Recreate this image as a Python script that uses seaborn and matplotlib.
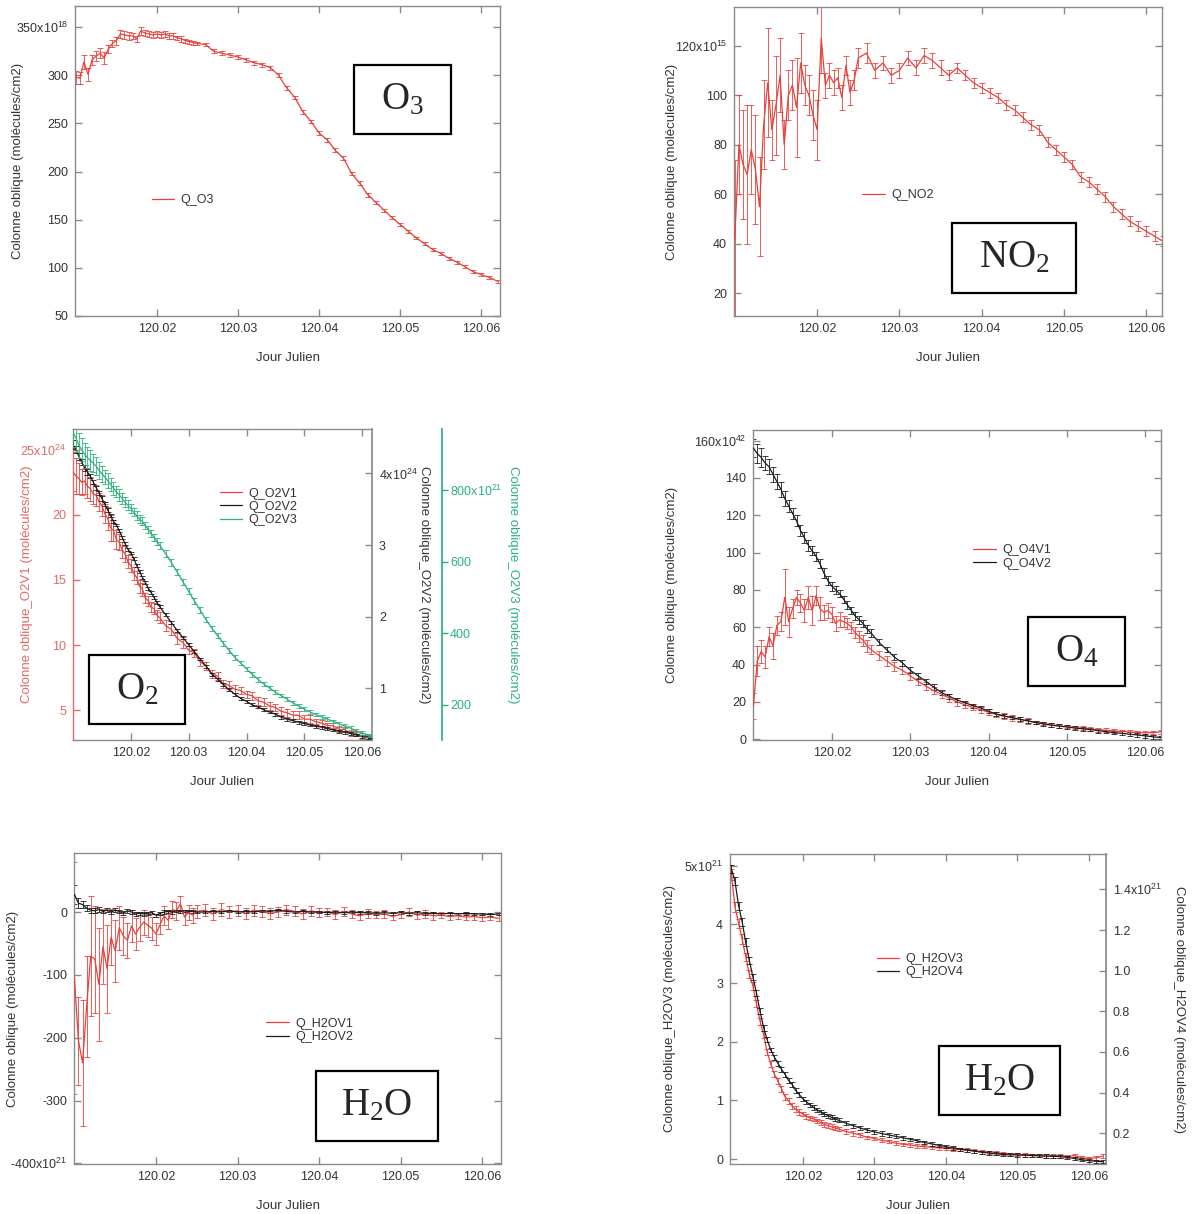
import matplotlib
matplotlib.use("Agg")
import matplotlib.pyplot as plt
import pandas as pd
import seaborn as sns
from matplotlib.patches import Rectangle

# temps (jour julien) commun a toutes les series
jour = [120.0100, 120.0105, 120.0110, 120.0115, 120.0120, 120.0125, 120.0130, 120.0135, 120.0140, 120.0145,
        120.0150, 120.0155, 120.0160, 120.0165, 120.0170, 120.0175, 120.0180, 120.0185, 120.0190, 120.0195,
        120.0200, 120.0205, 120.0210, 120.0215, 120.0220, 120.0225, 120.0230, 120.0235, 120.0240, 120.0245,
        120.0250, 120.026, 120.027, 120.028, 120.029, 120.030, 120.031, 120.032, 120.033, 120.034,
        120.035, 120.036, 120.037, 120.038, 120.039, 120.040, 120.041, 120.042, 120.043, 120.044,
        120.045, 120.046, 120.047, 120.048, 120.049, 120.050, 120.051, 120.052, 120.053, 120.054,
        120.055, 120.056, 120.057, 120.058, 120.059, 120.060, 120.061, 120.062]

# O3 (x1e18)
q_o3 = [298, 297, 314, 301, 316, 320, 323, 318, 327, 333,
        336, 343, 342, 341, 341, 338, 346, 344, 343, 342,
        343, 342, 343, 341, 341, 339, 338, 336, 335, 334,
        333, 332, 325, 323, 321, 319, 316, 313, 311, 308,
        300, 287, 277, 262, 252, 240, 233, 222, 214, 198,
        188, 176, 168, 160, 152, 145, 138, 131, 125, 119,
        115, 110, 106, 101, 96, 93, 90, 86]
q_o3_err = [7, 6, 7, 7, 5, 5, 5, 6, 4, 4,
            4, 4, 4, 4, 3, 3, 4, 3, 3, 3,
            3, 3, 3, 3, 3, 2, 3, 2, 2, 2,
            2, 2, 2, 2, 2, 2, 2, 2, 2, 2,
            2, 2, 2, 2, 2, 2, 2, 2, 2, 2,
            2, 2, 1.5, 1.5, 1.5, 1.5, 1.5, 1.5, 1.5, 1.5,
            1.5, 1.5, 1.5, 1.5, 1.5, 1.5, 1.5, 1.5]

# NO2 (x1e15)
q_no2 = [42, 80, 72, 68, 78, 70, 55, 88, 105, 86,
         96, 108, 80, 100, 104, 95, 113, 104, 100, 92,
         86, 123, 104, 108, 105, 107, 99, 112, 101, 106,
         115, 117, 110, 113, 108, 110, 115, 111, 116, 114,
         111, 108, 111, 108, 105, 103, 101, 99, 96, 94,
         91, 88, 86, 81, 78, 75, 72, 67, 65, 62,
         59, 55, 52, 49, 47, 45, 43, 41]
q_no2_err = [32, 20, 22, 28, 18, 22, 20, 18, 22, 12,
             20, 15, 10, 10, 10, 20, 12, 8, 8, 10,
             12, 14, 5, 5, 5, 4, 5, 4, 5, 4,
             4, 4, 3, 3, 3, 3, 3, 3, 3, 3,
             3, 2, 2, 2, 2, 2, 2, 2, 2, 2,
             2, 2, 2, 2, 2, 2, 2, 2, 2, 2,
             2, 2, 2, 2, 2, 2, 2, 2]

# O2 : V1 (x1e24, axe gauche), V2 (x1e24, axe droit), V3 (x1e21, troisieme axe)
q_o2v1 = [23.3, 23.0, 22.8, 22.5, 22.6, 22.2, 22.0, 21.6, 21.5, 21.0,
          20.7, 20.1, 19.7, 19.0, 18.8, 18.1, 17.9, 17.3, 17.0, 16.4,
          16.1, 15.5, 15.2, 14.5, 14.3, 13.6, 13.4, 12.9, 12.8, 12.3,
          12.1, 11.5, 11.2, 10.5, 10.2, 9.6, 9.4, 8.7, 8.4, 7.8,
          7.6, 7.0, 6.9, 6.6, 6.5, 6.2, 6.1, 5.7, 5.6, 5.3,
          5.2, 4.9, 4.8, 4.6, 4.6, 4.3, 4.3, 4.1, 4.0, 3.8,
          3.8, 3.5, 3.5, 3.2, 3.2, 3.0, 2.9, 2.8]
q_o2v1_err = [1.5, 1.4, 1.2, 1.0, 1.0, 0.9, 0.9, 0.8, 0.8, 0.7,
              0.8, 0.7, 0.9, 1.0, 0.8, 0.7, 0.6, 0.6, 0.6, 0.5,
              0.5, 0.5, 0.5, 0.5, 0.5, 0.4, 0.4, 0.4, 0.4, 0.4,
              0.4, 0.4, 0.4, 0.4, 0.4, 0.3, 0.3, 0.3, 0.3, 0.3,
              0.3, 0.3, 0.3, 0.3, 0.3, 0.3, 0.3, 0.3, 0.3, 0.3,
              0.3, 0.3, 0.3, 0.3, 0.3, 0.3, 0.3, 0.2, 0.2, 0.2,
              0.2, 0.2, 0.2, 0.2, 0.2, 0.2, 0.2, 0.2]
q_o2v2 = [4.40, 4.33, 4.24, 4.16, 4.08, 4.02, 3.96, 3.88, 3.80, 3.73,
          3.65, 3.57, 3.49, 3.41, 3.33, 3.28, 3.20, 3.11, 3.02, 2.94,
          2.89, 2.81, 2.72, 2.63, 2.55, 2.48, 2.40, 2.34, 2.27, 2.20,
          2.14, 2.03, 1.92, 1.81, 1.71, 1.61, 1.51, 1.41, 1.31, 1.20,
          1.13, 1.05, 0.98, 0.92, 0.86, 0.82, 0.77, 0.74, 0.70, 0.67,
          0.64, 0.60, 0.57, 0.55, 0.53, 0.51, 0.49, 0.47, 0.46, 0.44,
          0.42, 0.40, 0.39, 0.37, 0.35, 0.33, 0.31, 0.29]
q_o2v2_err = [0.06, 0.05, 0.05, 0.04, 0.04, 0.04, 0.03, 0.03, 0.03, 0.03,
              0.03, 0.03, 0.03, 0.02, 0.02, 0.02, 0.02, 0.02, 0.02, 0.02,
              0.02, 0.02, 0.02, 0.02, 0.02, 0.02, 0.02, 0.02, 0.02, 0.02,
              0.02, 0.02, 0.02, 0.02, 0.02, 0.02, 0.02, 0.02, 0.02, 0.02,
              0.02, 0.02, 0.02, 0.02, 0.02, 0.02, 0.02, 0.02, 0.02, 0.02,
              0.02, 0.02, 0.02, 0.02, 0.02, 0.02, 0.02, 0.02, 0.02, 0.02,
              0.02, 0.02, 0.02, 0.02, 0.02, 0.02, 0.02, 0.02]
q_o2v3 = [960, 945, 925, 912, 900, 890, 882, 875, 866, 855,
          845, 836, 826, 815, 805, 795, 786, 776, 766, 757,
          748, 738, 728, 718, 712, 700, 690, 679, 667, 656,
          645, 622, 598, 571, 544, 517, 490, 464, 438, 414,
          393, 372, 352, 332, 317, 300, 285, 271, 258, 247,
          236, 226, 216, 206, 197, 188, 180, 173, 166, 160,
          154, 147, 141, 135, 128, 122, 115, 110]
q_o2v3_err = [40, 38, 35, 32, 30, 30, 28, 26, 25, 24,
              22, 20, 20, 18, 18, 16, 16, 15, 14, 14,
              13, 12, 12, 11, 11, 10, 10, 10, 10, 9,
              9, 9, 9, 8, 8, 8, 8, 8, 8, 7,
              7, 7, 7, 7, 6, 6, 6, 6, 6, 6,
              6, 5, 5, 5, 5, 5, 5, 5, 5, 5,
              5, 5, 5, 5, 5, 5, 5, 5]

# O4 (x1e42)
q_o4v1 = [18, 42, 47, 44, 55, 50, 61, 63, 76, 63,
          70, 76, 73, 69, 76, 69, 77, 70, 68, 69,
          67, 62, 64, 63, 62, 60, 57, 55, 53, 50,
          48, 45, 42, 39, 37, 34, 31, 28.5, 26, 24,
          22, 20, 18.5, 17, 15.8, 14.5, 13.3, 12.3, 11.5, 10.6,
          9.8, 9.0, 8.4, 7.8, 7.2, 6.8, 6.3, 5.9, 5.5, 5.1,
          4.8, 4.5, 4.2, 3.9, 3.6, 3.4, 3.6, 4.0]
q_o4v1_err = [7, 8, 6, 6, 5, 7, 5, 5, 15, 8,
              5, 4, 5, 6, 6, 8, 5, 6, 4, 4,
              4, 4, 4, 3, 3, 3, 3, 3, 3, 3,
              2.5, 2.5, 2.5, 2.5, 2, 2, 2, 2, 2, 2,
              2, 2, 1.5, 1.5, 1.5, 1.5, 1.5, 1.5, 1.5, 1.5,
              1.5, 1, 1, 1, 1, 1, 1, 1, 1, 1,
              1, 1, 1, 1, 1, 1, 1, 1]
q_o4v2 = [156, 153, 151, 148, 146, 142, 138, 134, 129, 125,
          121, 117, 112, 108, 104, 101, 98, 94, 89, 85,
          82, 80, 78, 75, 72, 69, 66, 64, 62, 59,
          57, 52, 48, 44, 41, 37, 34, 31, 28, 25,
          23, 21, 19.6, 18, 16.8, 15, 13.5, 12.5, 11.6, 10.7,
          9.9, 9.0, 8.2, 7.6, 7.0, 6.6, 6.0, 5.6, 5.2, 4.6,
          4.1, 3.6, 3.2, 2.7, 2.3, 1.8, 1.3, 0.9]
q_o4v2_err = [5, 5, 5, 4, 4, 4, 4, 4, 4, 3,
              3, 3, 3, 3, 3, 2.5, 2.5, 2.5, 2.5, 2.5,
              2.5, 2, 2, 2, 2, 2, 2, 2, 2, 2,
              2, 1.5, 1.5, 1.5, 1.5, 1.5, 1.5, 1.5, 1.5, 1.5,
              1.5, 1, 1, 1, 1, 1, 1, 1, 1, 1,
              1, 1, 1, 1, 1, 1, 1, 1, 1, 1,
              1, 1, 1, 1, 1, 1, 1, 1]

# H2O V1 / V2 (x1e21)
q_h2ov1 = [-105, -205, -240, -150, -70, -75, -115, -55, -90, -40,
           -62, -25, -38, -45, -22, -35, -24, -16, -21, -26,
           -35, -20, -6, -13, 4, 2, 13, -8, 0, -5,
           1, 3, -3, 4, 0, 2, -2, 3, 1, -2,
           0, 4, 1, -3, 2, -1, 0, -4, 1, -3,
           -6, -2, -4, -3, -7, -4, 0, -5, -3, -6,
           -5, -7, -6, -8, -7, -9, -8, -10]
q_h2ov1_err = [185, 70, 100, 80, 95, 85, 90, 60, 70, 45,
               50, 35, 30, 28, 25, 25, 22, 20, 18, 18,
               18, 15, 15, 14, 14, 14, 12, 12, 12, 12,
               10, 10, 10, 10, 10, 9, 9, 9, 9, 9,
               8, 8, 8, 8, 8, 7, 7, 7, 7, 7,
               7, 7, 6, 6, 6, 6, 6, 6, 6, 6,
               5, 5, 5, 5, 5, 5, 5, 5]
q_h2ov2 = [28, 14, 12, 6, 3, 2, 4, 1, 3, 0,
           3, 1, -2, 2, 0, -3, -2, -3, -2, -1,
           -5, -2, 0, 1, 0, 2, 1, 2, 1, 1,
           0, 0, 1, 0, 2, 0, 1, 0, 2, 1,
           3, 1, 0, 1, 0, 0, -1, 0, -1, 0,
           -1, -1, -2, -1, -2, -1, -2, -1, -2, -2,
           -3, -2, -3, -2, -3, -3, -4, -3]
q_h2ov2_err = [15, 8, 6, 5, 4, 4, 4, 3, 3, 3,
               3, 3, 3, 3, 3, 2.5, 2.5, 2.5, 2.5, 2.5,
               2.5, 2.5, 2.5, 2.5, 2.5, 2, 2, 2, 2, 2,
               2, 2, 2, 2, 2, 2, 2, 2, 2, 2,
               2, 2, 2, 2, 2, 2, 2, 2, 2, 2,
               2, 2, 2, 2, 2, 2, 2, 2, 2, 2,
               2, 2, 2, 2, 2, 2, 2, 2]

# H2O V3 (x1e21, axe gauche) / V4 (x1e21, axe droit)
q_h2ov3 = [4.85, 4.30, 4.02, 3.75, 3.45, 3.15, 2.95, 2.65, 2.35, 2.12,
           1.82, 1.62, 1.45, 1.33, 1.20, 1.06, 0.99, 0.90, 0.85, 0.80,
           0.77, 0.73, 0.70, 0.68, 0.65, 0.62, 0.59, 0.57, 0.55, 0.53,
           0.51, 0.47, 0.44, 0.41, 0.37, 0.35, 0.32, 0.30, 0.27, 0.25,
           0.24, 0.22, 0.21, 0.20, 0.19, 0.18, 0.17, 0.16, 0.15, 0.14,
           0.12, 0.11, 0.10, 0.09, 0.08, 0.08, 0.07, 0.06, 0.06, 0.05,
           0.05, 0.05, 0.04, 0.06, 0.02, 0.01, 0.02, 0.05]
q_h2ov3_err = [0.10, 0.09, 0.08, 0.08, 0.07, 0.07, 0.07, 0.06, 0.06, 0.06,
               0.05, 0.05, 0.05, 0.05, 0.05, 0.05, 0.05, 0.05, 0.05, 0.05,
               0.04, 0.04, 0.04, 0.04, 0.04, 0.04, 0.04, 0.04, 0.04, 0.04,
               0.04, 0.04, 0.04, 0.04, 0.03, 0.03, 0.03, 0.03, 0.03, 0.03,
               0.03, 0.03, 0.03, 0.03, 0.03, 0.03, 0.03, 0.03, 0.03, 0.03,
               0.03, 0.03, 0.03, 0.03, 0.03, 0.03, 0.03, 0.03, 0.03, 0.03,
               0.03, 0.03, 0.03, 0.03, 0.03, 0.03, 0.03, 0.03]
q_h2ov4 = [1.50, 1.44, 1.32, 1.24, 1.14, 1.05, 0.97, 0.89, 0.80, 0.72,
           0.66, 0.61, 0.575, 0.545, 0.515, 0.49, 0.46, 0.44, 0.41, 0.39,
           0.37, 0.355, 0.34, 0.327, 0.315, 0.305, 0.295, 0.287, 0.279, 0.271,
           0.264, 0.250, 0.238, 0.226, 0.216, 0.207, 0.199, 0.192, 0.185, 0.178,
           0.171, 0.163, 0.155, 0.148, 0.141, 0.134, 0.128, 0.122, 0.117, 0.112,
           0.107, 0.103, 0.099, 0.096, 0.094, 0.093, 0.092, 0.091, 0.089, 0.088,
           0.087, 0.085, 0.082, 0.076, 0.070, 0.066, 0.062, 0.060]
q_h2ov4_err = [0.02, 0.02, 0.02, 0.02, 0.02, 0.015, 0.015, 0.015, 0.015, 0.015,
               0.012, 0.012, 0.012, 0.012, 0.012, 0.012, 0.012, 0.012, 0.012, 0.012,
               0.01, 0.01, 0.01, 0.01, 0.01, 0.01, 0.01, 0.01, 0.01, 0.01,
               0.01, 0.01, 0.01, 0.01, 0.01, 0.01, 0.01, 0.01, 0.01, 0.01,
               0.008, 0.008, 0.008, 0.008, 0.008, 0.008, 0.008, 0.008, 0.008, 0.008,
               0.008, 0.008, 0.008, 0.008, 0.008, 0.008, 0.008, 0.008, 0.008, 0.008,
               0.008, 0.008, 0.008, 0.008, 0.008, 0.008, 0.008, 0.008]

x_ticks = [120.02, 120.03, 120.04, 120.05, 120.06]
x_labels = ["120.02", "120.03", "120.04", "120.05", "120.06"]

sns.set_theme(style="white")
plt.rcParams["font.family"] = ["Liberation Sans", "DejaVu Sans"]
plt.rcParams["mathtext.default"] = "regular"

RED = "#e8403a"
RED_AX = "#e06a66"
BLACK = "#1c1c1c"
GREEN = "#2bb27b"
GREY = "#8a8a8a"
TXT = "#333333"

W, H = 1196, 1214
fig = plt.figure(figsize=(W / 100, H / 100), dpi=100)


def place(l, t, r, b):
    return [l / W, 1 - b / H, (r - l) / W, (b - t) / H]


def trace(ax, y, err, color):
    frame = pd.DataFrame({"jour": jour, "val": y})
    ax.errorbar(jour, y, yerr=err, fmt="none", ecolor=color, elinewidth=0.7,
                capsize=2, capthick=0.7, alpha=0.85, zorder=2)
    sns.lineplot(data=frame, x="jour", y="val", ax=ax, color=color, linewidth=0.9,
                 errorbar=None, legend=False, zorder=3)
    return ax.lines[-1]


def frame_axes(ax, xlim, ylim, yticks, ylabels, ylabel, lab_x, right=True):
    ax.set_xlim(*xlim)
    ax.set_ylim(*ylim)
    ax.set_xticks(x_ticks)
    ax.set_xticklabels(x_labels)
    ax.set_yticks(yticks)
    ax.set_yticklabels(ylabels)
    for s in ax.spines.values():
        s.set_color(GREY)
        s.set_linewidth(1)
    ax.tick_params(direction="in", length=5, width=1, color=GREY, labelsize=9,
                   labelcolor=TXT, pad=5, bottom=True, top=True, left=True, right=right)
    ax.set_xlabel("Jour Julien", fontsize=9.5, color=TXT)
    ax.xaxis.set_label_coords(0.5, -0.115)
    ax.set_ylabel(ylabel, fontsize=9.5, color=TXT)
    ax.yaxis.label.set_va("center")
    ax.yaxis.set_label_coords(lab_x, 0.5)


def legend(ax, handles, labels, x, y):
    ax.legend(handles, labels, loc="center left", bbox_to_anchor=(x, y), frameon=False,
              fontsize=9, handlelength=1.8, handletextpad=0.5, borderpad=0,
              borderaxespad=0, labelspacing=0.1, labelcolor=TXT)


def right_twin(ax, ylim, yticks, ylabels, color=GREY, txt=TXT):
    tw = ax.twinx()
    tw.set_ylim(*ylim)
    for name, s in tw.spines.items():
        s.set_visible(name == "right")
    tw.spines["right"].set_color(color)
    tw.set_yticks(yticks)
    tw.set_yticklabels(ylabels)
    tw.tick_params(axis="y", direction="in", length=5, width=1, color=color,
                   labelsize=9, labelcolor=txt, pad=5, right=True, left=False)
    return tw


def right_label(tw, ylabel, lab_x, color=TXT):
    tw.set_ylabel(ylabel, fontsize=9.5, color=color, rotation=270)
    tw.yaxis.label.set_va("center")
    tw.yaxis.set_label_coords(lab_x, 0.5)


def tag(l, t, r, b, text):
    fig.add_artist(Rectangle((l / W, 1 - b / H), (r - l) / W, (b - t) / H,
                             transform=fig.transFigure, fill=False, lw=1.6, ec="black"))
    fig.text((l + r) / 2 / W, 1 - (t + b) / 2 / H, text, fontsize=28,
             fontfamily="Liberation Serif", ha="center", va="center")


label_q = "Colonne oblique (molécules/cm2)"

# O3
ax = fig.add_axes(place(75, 6, 500, 316))
h = trace(ax, q_o3, q_o3_err, RED)
frame_axes(ax, (120.0099, 120.0623), (50, 372), [50, 100, 150, 200, 250, 300, 350],
           ["50", "100", "150", "200", "250", "300", "350x10$^{18}$"], label_q, -0.134)
legend(ax, [h], ["Q_O3"], 0.18, 0.374)
tag(354, 65, 451, 134, r"O$_{3}$")

# NO2
ax = fig.add_axes(place(734, 7, 1162, 316))
h = trace(ax, q_no2, q_no2_err, RED)
frame_axes(ax, (120.0099, 120.0619), (10.8, 135.6), [20, 40, 60, 80, 100, 120],
           ["20", "40", "60", "80", "100", "120x10$^{15}$"], label_q, -0.145)
legend(ax, [h], ["Q_NO2"], 0.30, 0.39)
tag(952, 223, 1076, 293, r"NO$_{2}$")

# O2 (trois axes)
ax = fig.add_axes(place(73, 429, 372, 740))
h1 = trace(ax, q_o2v1, q_o2v1_err, RED)
frame_axes(ax, (120.0100, 120.0617), (2.7, 26.6), [5, 10, 15, 20, 25],
           ["5", "10", "15", "20", "25x10$^{24}$"],
           "Colonne oblique_O2V1 (molécules/cm2)", -0.154, right=False)
ax.spines["left"].set_color(RED_AX)
ax.tick_params(axis="y", color=RED_AX, labelcolor=RED_AX)
ax.yaxis.label.set_color(RED_AX)
ax.spines["right"].set_visible(False)

ax2 = right_twin(ax, (0.28, 4.62), [1, 2, 3, 4], ["1", "2", "3", "4x10$^{24}$"])
h2 = trace(ax2, q_o2v2, q_o2v2_err, BLACK)
ax2.set_ylim(0.28, 4.62)
right_label(ax2, "Colonne oblique_O2V2 (molécules/cm2)", 1.174)

ax3 = right_twin(ax, (102, 970), [200, 400, 600, 800], ["200", "400", "600", "800x10$^{21}$"],
                 color=GREEN, txt=GREEN)
h3 = trace(ax3, q_o2v3, q_o2v3_err, GREEN)
ax3.set_ylim(102, 970)
ax3.spines["right"].set_position(("axes", 1.233))
ax3.tick_params(axis="y", direction="out", length=4, pad=2)
right_label(ax3, "Colonne oblique_O2V3 (molécules/cm2)", 1.472, color=GREEN)
ax.set_xlim(120.0100, 120.0617)
legend(ax3, [h1, h2, h3], ["Q_O2V1", "Q_O2V2", "Q_O2V3"], 0.49, 0.75)
tag(89, 655, 185, 724, r"O$_{2}$")

# O4
ax = fig.add_axes(place(753, 430, 1161, 740))
h1 = trace(ax, q_o4v1, q_o4v1_err, RED)
h2 = trace(ax, q_o4v2, q_o4v2_err, BLACK)
frame_axes(ax, (120.00995, 120.062), (-0.4, 165.7), [0, 20, 40, 60, 80, 100, 120, 140, 160],
           ["0", "20", "40", "60", "80", "100", "120", "140", "160x10$^{42}$"], label_q, -0.199)
legend(ax, [h1, h2], ["Q_O4V1", "Q_O4V2"], 0.54, 0.59)
tag(1028, 617, 1125, 686, r"O$_{4}$")

# H2O V1 / V2
ax = fig.add_axes(place(74, 853, 501, 1164))
h1 = trace(ax, q_h2ov1, q_h2ov1_err, RED)
h2 = trace(ax, q_h2ov2, q_h2ov2_err, BLACK)
frame_axes(ax, (120.00995, 120.0623), (-401, 94), [-400, -300, -200, -100, 0],
           ["-400x10$^{21}$", "-300", "-200", "-100", "0"], label_q, -0.143)
legend(ax, [h1, h2], ["Q_H2OV1", "Q_H2OV2"], 0.45, 0.43)
tag(316, 1071, 438, 1141, r"H$_{2}$O")

# H2O V3 / V4
ax = fig.add_axes(place(730, 854, 1106, 1164))
h1 = trace(ax, q_h2ov3, q_h2ov3_err, RED)
frame_axes(ax, (120.0098, 120.0624), (-0.085, 5.2), [0, 1, 2, 3, 4, 5],
           ["0", "1", "2", "3", "4", "5x10$^{21}$"],
           "Colonne oblique_H2OV3 (molécules/cm2)", -0.16, right=False)
ax.spines["right"].set_visible(False)
ax2 = right_twin(ax, (0.049, 1.574), [0.2, 0.4, 0.6, 0.8, 1.0, 1.2, 1.4],
                 ["0.2", "0.4", "0.6", "0.8", "1.0", "1.2", "1.4x10$^{21}$"])
h2 = trace(ax2, q_h2ov4, q_h2ov4_err, BLACK)
ax2.set_ylim(0.049, 1.574)
right_label(ax2, "Colonne oblique_H2OV4 (molécules/cm2)", 1.194)
legend(ax2, [h1, h2], ["Q_H2OV3", "Q_H2OV4"], 0.39, 0.64)
tag(939, 1046, 1060, 1115, r"H$_{2}$O")

fig.savefig("out.png", dpi=100, facecolor="white")
